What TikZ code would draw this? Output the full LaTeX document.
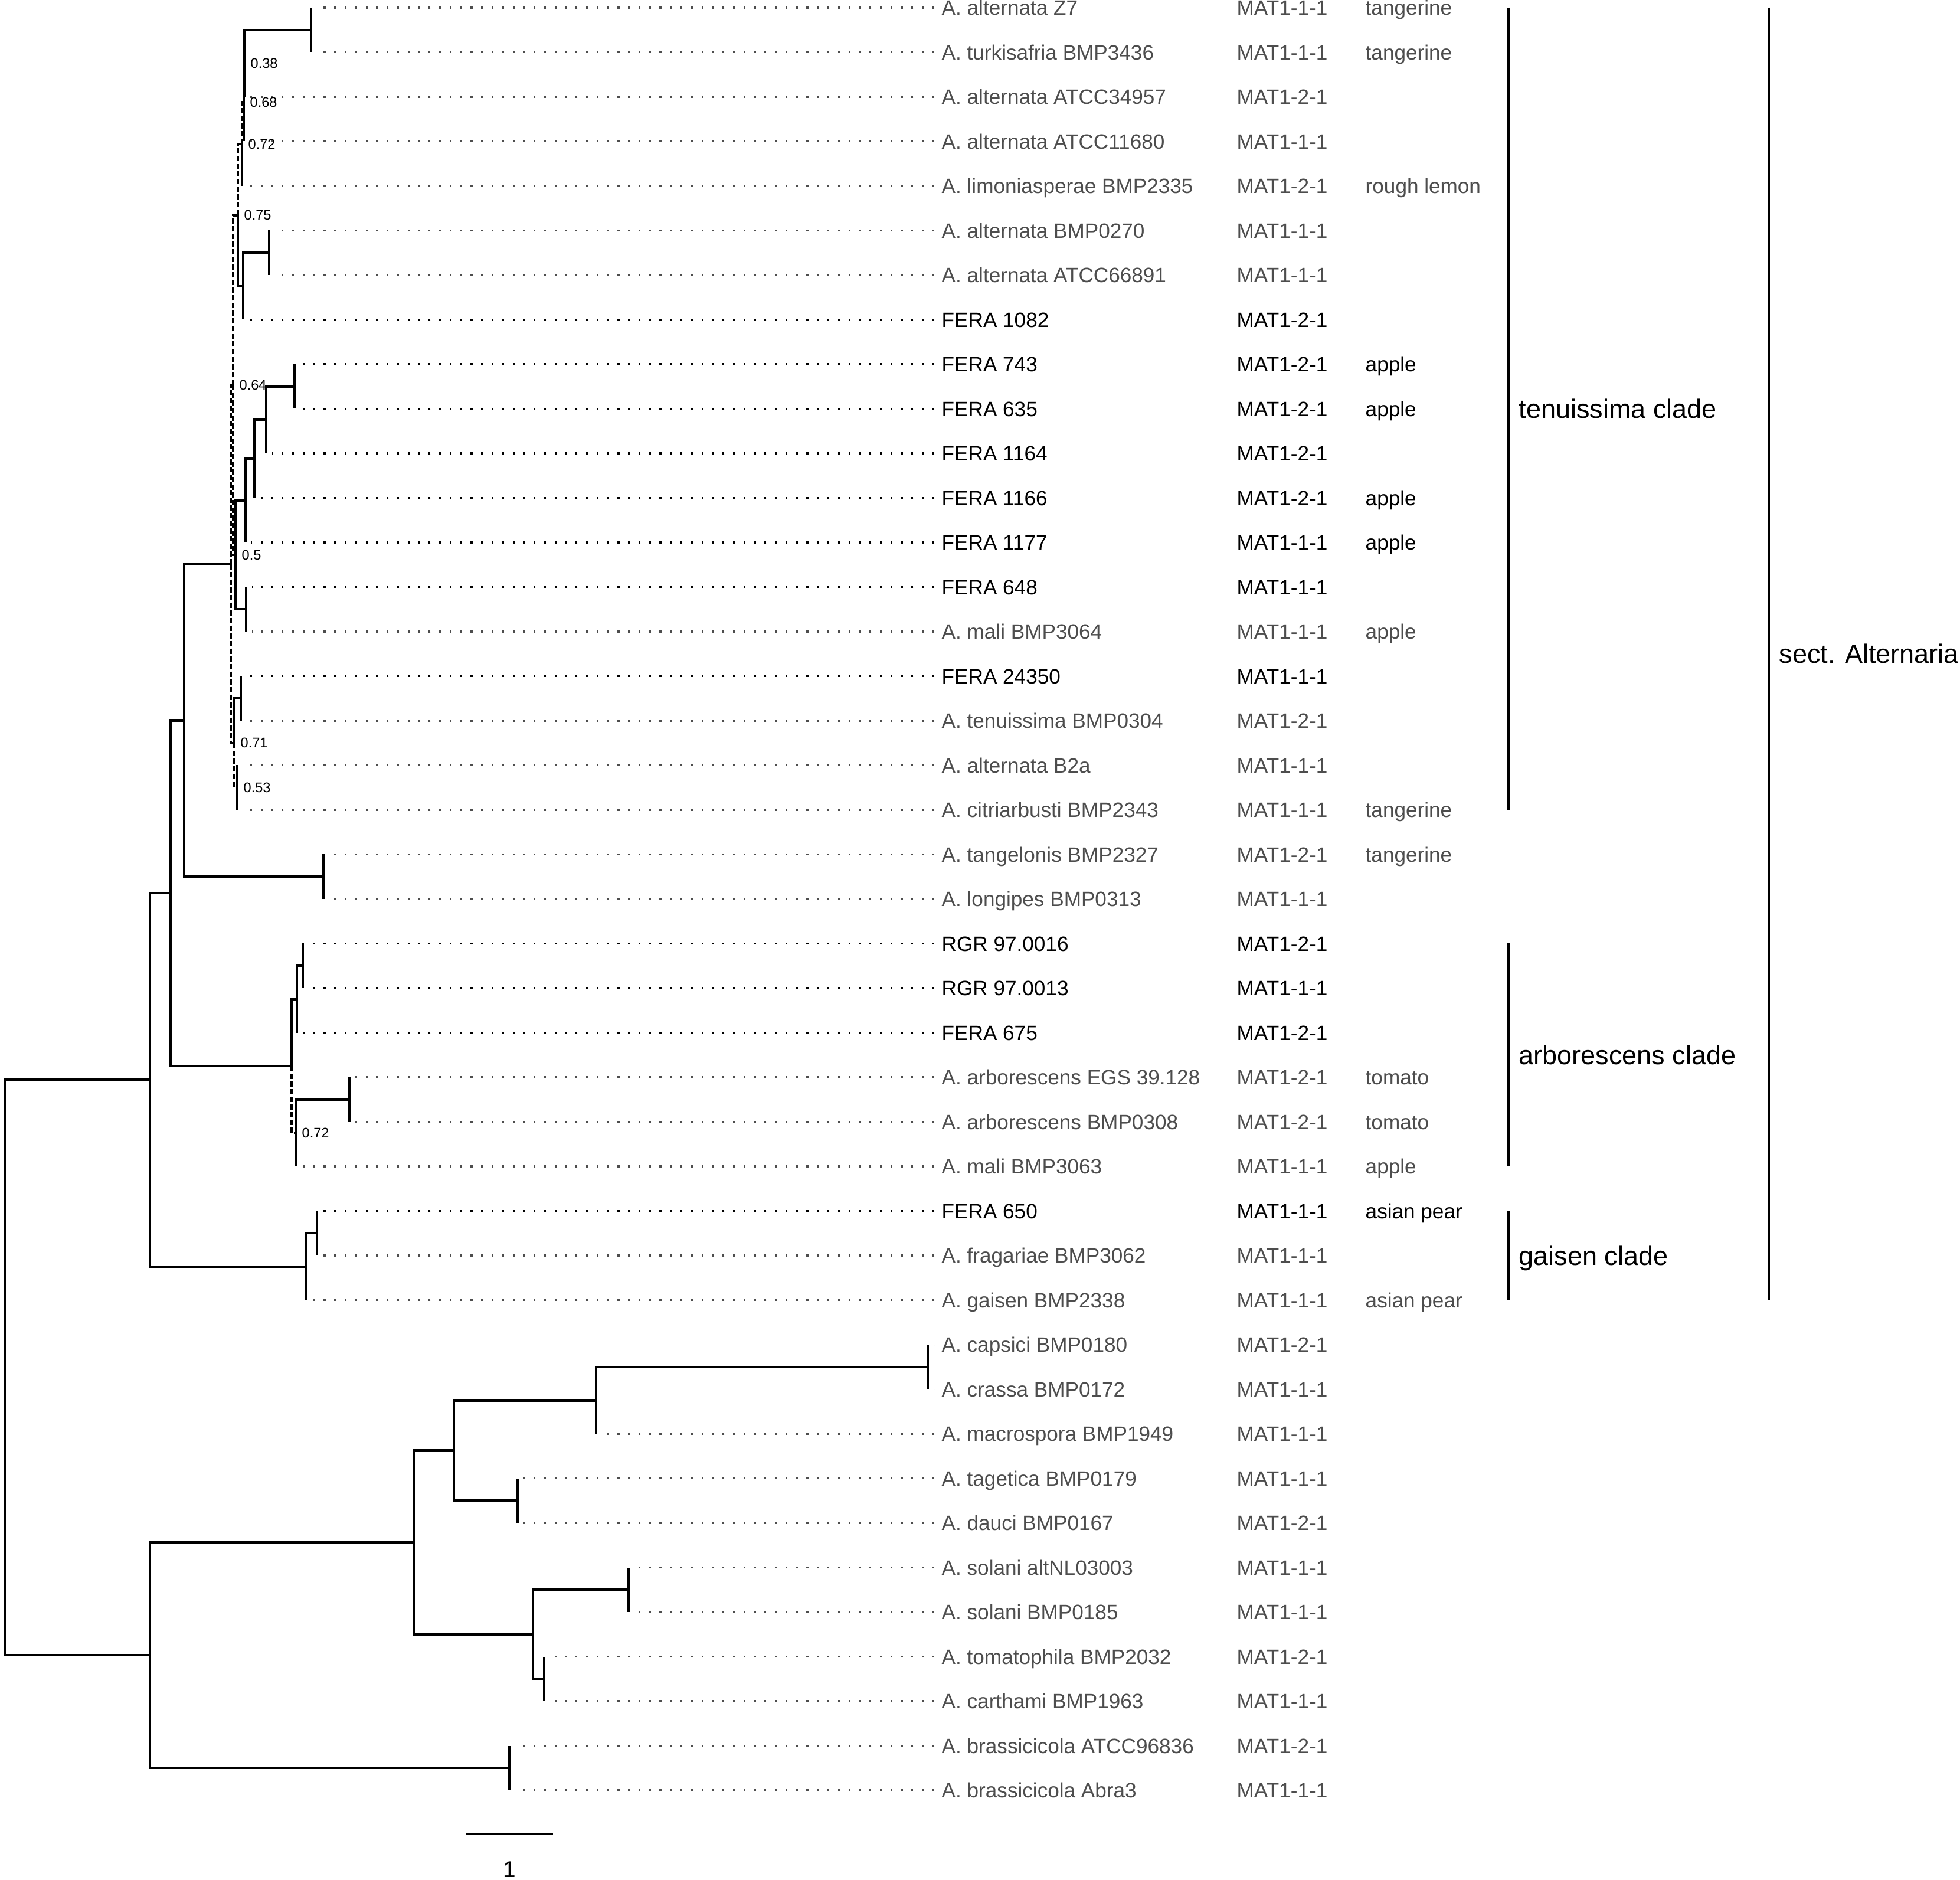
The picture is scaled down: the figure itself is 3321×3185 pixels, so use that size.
\documentclass[tikz,border=0pt]{standalone}
\usepackage{fontspec}
\setmainfont{Liberation Sans}
\usetikzlibrary{math}
\definecolor{tipgray}{HTML}{4D4D4D}

\begin{document}
\begin{tikzpicture}[x=0.1mm,y=-0.1mm,
                        branch/.style={line width=1.25pt,line join=miter},
                        weakbranch/.style={branch,dash pattern=on 0.9mm off 0.4mm},
                        leader/.style={line width=0.9pt,dash pattern=on 0.9pt off 4.16pt},
                        tiplab/.style={anchor=base west,inner sep=0pt,yshift=-1.26mm,font=\fontsize{10}{12}\selectfont},
                        bootval/.style={anchor=west,inner sep=0pt,xshift=1mm,font=\fontsize{6.7}{8}\selectfont},
                        cladebar/.style={line width=1.2pt},
                        cladelab/.style={anchor=base west,inner sep=0pt,xshift=1.7mm,yshift=-1.62mm,font=\fontsize{12.8}{15}\selectfont}]
      \useasboundingbox (0,0) rectangle (3321,3185);
      \tikzmath{
        function rowy(\row) {
          return 13 + 75.5*\row;
        };
      }

      \foreach[count=\i from 0] \tip/\name/\mat/\host/\col in {
          527/A. alternata Z7/MAT1-1-1/tangerine/tipgray,
          527/A. turkisafria BMP3436/MAT1-1-1/tangerine/tipgray,
          414/A. alternata ATCC34957/MAT1-2-1//tipgray,
          413/A. alternata ATCC11680/MAT1-1-1//tipgray,
          410/A. limoniasperae BMP2335/MAT1-2-1/rough lemon/tipgray,
          456/A. alternata BMP0270/MAT1-1-1//tipgray,
          456/A. alternata ATCC66891/MAT1-1-1//tipgray,
          412/FERA 1082/MAT1-2-1//black,
          499/FERA 743/MAT1-2-1/apple/black,
          499/FERA 635/MAT1-2-1/apple/black,
          451/FERA 1164/MAT1-2-1//black,
          431/FERA 1166/MAT1-2-1/apple/black,
          416/FERA 1177/MAT1-1-1/apple/black,
          417/FERA 648/MAT1-1-1//black,
          417/A. mali BMP3064/MAT1-1-1/apple/tipgray,
          408/FERA 24350/MAT1-1-1//black,
          408/A. tenuissima BMP0304/MAT1-2-1//tipgray,
          402/A. alternata B2a/MAT1-1-1//tipgray,
          402/A. citriarbusti BMP2343/MAT1-1-1/tangerine/tipgray,
          548/A. tangelonis BMP2327/MAT1-2-1/tangerine/tipgray,
          548/A. longipes BMP0313/MAT1-1-1//tipgray,
          513/RGR 97.0016/MAT1-2-1//black,
          513/RGR 97.0013/MAT1-1-1//black,
          503/FERA 675/MAT1-2-1//black,
          592/A. arborescens EGS 39.128/MAT1-2-1/tomato/tipgray,
          592/A. arborescens BMP0308/MAT1-2-1/tomato/tipgray,
          501/A. mali BMP3063/MAT1-1-1/apple/tipgray,
          537/FERA 650/MAT1-1-1/asian pear/black,
          537/A. fragariae BMP3062/MAT1-1-1//tipgray,
          519/A. gaisen BMP2338/MAT1-1-1/asian pear/tipgray,
          1572/A. capsici BMP0180/MAT1-2-1//tipgray,
          1572/A. crassa BMP0172/MAT1-1-1//tipgray,
          1010/A. macrospora BMP1949/MAT1-1-1//tipgray,
          877/A. tagetica BMP0179/MAT1-1-1//tipgray,
          877/A. dauci BMP0167/MAT1-2-1//tipgray,
          1065/A. solani altNL03003/MAT1-1-1//tipgray,
          1065/A. solani BMP0185/MAT1-1-1//tipgray,
          922/A. tomatophila BMP2032/MAT1-2-1//tipgray,
          922/A. carthami BMP1963/MAT1-1-1//tipgray,
          863/A. brassicicola ATCC96836/MAT1-2-1//tipgray,
          863/A. brassicicola Abra3/MAT1-1-1//tipgray} {
        \tikzmath{
          real \y;
          \y = rowy(\i);
        }
        \coordinate (t\i) at (\tip,\y);
        \draw[leader,\col] (1583,\y) -- (\tip+10,\y);
        \node[tiplab,text=\col] (name\i) at (1595,\y) {\name};
        \node[tiplab,text=\col] (mat\i) at (2095,\y) {\mat};
        \ifx\host\empty\else
          \node[tiplab,text=\col] (host\i) at (2313,\y) {\host};
        \fi
      }

      \foreach \n/\x/\y in {root/8/2316.9, A/254/1829.6, B/289/1513.25, C/312/1220.4,
          R/391/955.6, Q2/395/652.4, Q/403/364.5, P2/410/244.2, P1/413/173.4,
          N012/414/107.4, N01/527/50.75, N567/412/484.9, N56/456/428.25,
          S5/399/940.2, G4/416/848.2, G3/431/777.4, G2/451/711.4, G1/499/654.75,
          N1314/417/1032.25, W/397/1258.75, N1516/408/1183.25, V/402/1334.25,
          TL/548/1485.25, Arb/494/1806.1, ArbA/503/1692.9, ArbA1/513/1636.25,
          ArbB/501/1919.4, ArbB1/592/1862.75, Gai/519/2145.9, Gai1/537/2089.25,
          O/254/2804.1, O1/701/2613, O2/769/2457.3, O3/1010/2372.4, O4/1572/2315.75,
          O5/877/2542.25, O6/903/2768.75, O7/1065/2693.25, O8/922/2844.25, OB/863/2995.25} {
        \coordinate (\n) at (\x,\y);
      }

      \foreach \p/\c in {R/Q2, R/W, Q2/Q, Q2/S5, Q/P2, P2/P1, P1/N012, W/V, Arb/ArbB} {
        \draw[weakbranch] (\p) |- (\c);
      }

      \foreach \p/\c in {root/A, root/O, A/B, A/Gai, B/C, B/Arb, C/R, C/TL,
          Q/N567, P2/t4, P1/t3, N012/N01, N012/t2, N01/t0, N01/t1,
          N567/N56, N567/t7, N56/t5, N56/t6,
          S5/G4, S5/N1314, G4/G3, G4/t12, G3/G2, G3/t11, G2/G1, G2/t10, G1/t8, G1/t9,
          N1314/t13, N1314/t14, W/N1516, N1516/t15, N1516/t16, V/t17, V/t18,
          TL/t19, TL/t20, Arb/ArbA, ArbA/ArbA1, ArbA/t23, ArbA1/t21, ArbA1/t22,
          ArbB/ArbB1, ArbB/t26, ArbB1/t24, ArbB1/t25, Gai/Gai1, Gai/t29, Gai1/t27, Gai1/t28,
          O/O1, O/OB, O1/O2, O1/O6, O2/O3, O2/O5, O3/O4, O3/t32, O4/t30, O4/t31,
          O5/t33, O5/t34, O6/O7, O6/O8, O7/t35, O7/t36, O8/t37, O8/t38, OB/t39, OB/t40} {
        \draw[branch] (\p) |- (\c);
      }

      \foreach \n/\v in {N012/0.38, P1/0.68, P2/0.72, Q/0.75, Q2/0.64, S5/0.5, W/0.71, V/0.53, ArbB/0.72} {
        \node[bootval] (bs\n) at (\n) {\v};
      }

      \foreach[count=\k] \x/\a/\b/\clade in {2556/0/18/tenuissima clade, 2556/21/26/arborescens clade,
          2556/27/29/gaisen clade, 2997/0/29/sect. Alternaria} {
        \tikzmath{
          real \ya, \yb, \ym;
          \ya = rowy(\a);
          \yb = rowy(\b);
          \ym = (\ya + \yb)/2;
        }
        \draw[cladebar] (\x,\ya) -- (\x,\yb);
        \node[cladelab] (clade\k) at (\x,\ym) {\clade};
      }

      \coordinate (sbl) at (790,3107);
      \coordinate (sbr) at (937,3107);
      \draw[branch] (sbl) -- (sbr);
      \node[font=\fontsize{11}{13}\selectfont,inner sep=0pt] (sblab) at (863.5,3167) {1};
    \end{tikzpicture}
\end{document}
